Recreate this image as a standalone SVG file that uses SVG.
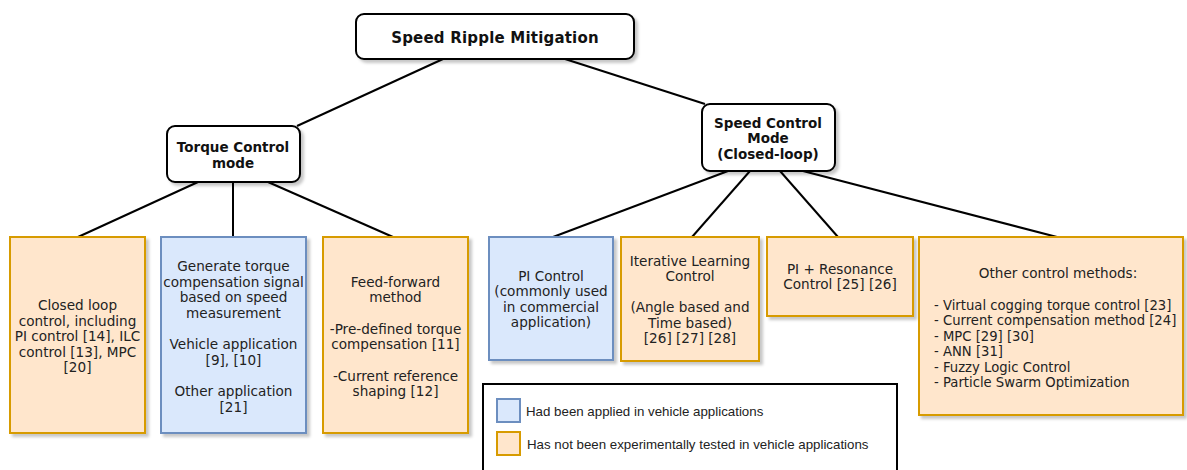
<svg xmlns="http://www.w3.org/2000/svg" width="1187" height="470" viewBox="0 0 1187 470">
<defs>
<filter id="sh" x="-10%" y="-10%" width="130%" height="130%">
<feDropShadow dx="3" dy="3" stdDeviation="1.5" flood-color="#000" flood-opacity="0.22"/>
</filter>
<style>
.hdr{fill:#fff;stroke:#000;stroke-width:2;filter:url(#sh)}
.org{fill:#ffe6cc;stroke:#d79b00;stroke-width:2;filter:url(#sh)}
.blu{fill:#dae8fc;stroke:#6c8ebf;stroke-width:2;filter:url(#sh)}
.b{font-family:"DejaVu Sans",Verdana,sans-serif;font-weight:bold;font-size:13.5px;fill:#111;text-anchor:middle}
.t{font-family:"DejaVu Sans",Verdana,sans-serif;font-size:13.6px;fill:#222;text-anchor:middle}
.l{font-family:"DejaVu Sans",Verdana,sans-serif;font-size:13.2px;fill:#222}
.lg{font-family:"Liberation Sans",Arial,sans-serif;font-size:13.3px;fill:#222}
.c{stroke:#000;stroke-width:2;fill:none}
</style>
</defs>
<rect width="1187" height="470" fill="#fff"/>
<g id="connectors">
<line class="c" x1="443" y1="59" x2="297" y2="126"/>
<line class="c" x1="565" y1="59" x2="705" y2="104"/>
<line class="c" x1="198" y1="182" x2="78" y2="237"/>
<line class="c" x1="233" y1="182" x2="233" y2="237"/>
<line class="c" x1="268" y1="182" x2="393" y2="237"/>
<line class="c" x1="728" y1="171" x2="553" y2="237"/>
<line class="c" x1="750" y1="171" x2="692" y2="237"/>
<line class="c" x1="780" y1="171" x2="838" y2="237"/>
<line class="c" x1="803" y1="171" x2="1057" y2="237"/>
</g>
<g id="root">
<rect class="hdr" x="356" y="14" width="278" height="45" rx="8"/>
<text class="b" x="495" y="43" style="font-size:15px;letter-spacing:0.2px">Speed Ripple Mitigation</text>
</g>
<g id="torque">
<rect class="hdr" x="167" y="126" width="133" height="56" rx="8"/>
<text class="b" x="233" y="151.5">Torque Control</text>
<text class="b" x="233" y="167.5">mode</text>
</g>
<g id="speed">
<rect class="hdr" x="702" y="104" width="133" height="67" rx="8"/>
<text class="b" x="768" y="128">Speed Control</text>
<text class="b" x="768" y="143">Mode</text>
<text class="b" x="768" y="158.5">(Closed-loop)</text>
</g>
<g id="closed-loop">
<rect class="org" x="10" y="237" width="135" height="196"/>
<text class="t" x="77.5" y="310">Closed loop</text>
<text class="t" x="77.5" y="325.5">control, including</text>
<text class="t" x="77.5" y="341">PI control [14], ILC</text>
<text class="t" x="77.5" y="356.5">control [13], MPC</text>
<text class="t" x="77.5" y="372">[20]</text>
</g>
<g id="generate">
<rect class="blu" x="161" y="237" width="145" height="196"/>
<text class="t" x="233.5" y="271">Generate torque</text>
<text class="t" x="233.5" y="286.5">compensation signal</text>
<text class="t" x="233.5" y="302">based on speed</text>
<text class="t" x="233.5" y="317.5">measurement</text>
<text class="t" x="233.5" y="349">Vehicle application</text>
<text class="t" x="233.5" y="364.5">[9], [10]</text>
<text class="t" x="233.5" y="396">Other application</text>
<text class="t" x="233.5" y="411.5">[21]</text>
</g>
<g id="feedforward">
<rect class="org" x="323" y="237" width="145" height="196"/>
<text class="t" x="395.5" y="286.5">Feed-forward</text>
<text class="t" x="395.5" y="302">method</text>
<text class="t" x="395.5" y="333.5">-Pre-defined torque</text>
<text class="t" x="395.5" y="349">compensation [11]</text>
<text class="t" x="395.5" y="380.5">-Current reference</text>
<text class="t" x="395.5" y="396">shaping [12]</text>
</g>
<g id="pi-control">
<rect class="blu" x="489" y="237" width="124" height="123"/>
<text class="t" x="551" y="280.5">PI Control</text>
<text class="t" x="551" y="296">(commonly used</text>
<text class="t" x="551" y="311.5">in commercial</text>
<text class="t" x="551" y="327">application)</text>
</g>
<g id="ilc">
<rect class="org" x="621" y="237" width="138" height="124"/>
<text class="t" x="690" y="265.5">Iterative Learning</text>
<text class="t" x="690" y="280.5">Control</text>
<text class="t" x="690" y="312">(Angle based and</text>
<text class="t" x="690" y="327.5">Time based)</text>
<text class="t" x="690" y="343">[26] [27] [28]</text>
</g>
<g id="pi-resonance">
<rect class="org" x="767" y="237" width="146" height="79"/>
<text class="t" x="840" y="274">PI + Resonance</text>
<text class="t" x="840" y="289">Control [25] [26]</text>
</g>
<g id="other">
<rect class="org" x="919" y="237" width="264" height="178"/>
<text class="t" x="1058" y="277.5">Other control methods:</text>
<text class="l" x="934" y="309.5">- Virtual cogging torque control [23]</text>
<text class="l" x="934" y="325">- Current compensation method [24]</text>
<text class="l" x="934" y="340.5">- MPC [29] [30]</text>
<text class="l" x="934" y="356">- ANN [31]</text>
<text class="l" x="934" y="371.5">- Fuzzy Logic Control</text>
<text class="l" x="934" y="387">- Particle Swarm Optimization</text>
</g>
<g id="legend">
<rect x="483" y="384" width="414" height="120" fill="#fff" stroke="#000" stroke-width="2"/>
<rect x="497" y="399" width="23" height="23" fill="#dae8fc" stroke="#6c8ebf" stroke-width="2"/>
<text class="lg" x="526" y="416">Had been applied in vehicle applications</text>
<rect x="497" y="432" width="23" height="23" fill="#ffe6cc" stroke="#d79b00" stroke-width="2"/>
<text class="lg" x="527" y="449">Has not been experimentally tested in vehicle applications</text>
</g>
</svg>
